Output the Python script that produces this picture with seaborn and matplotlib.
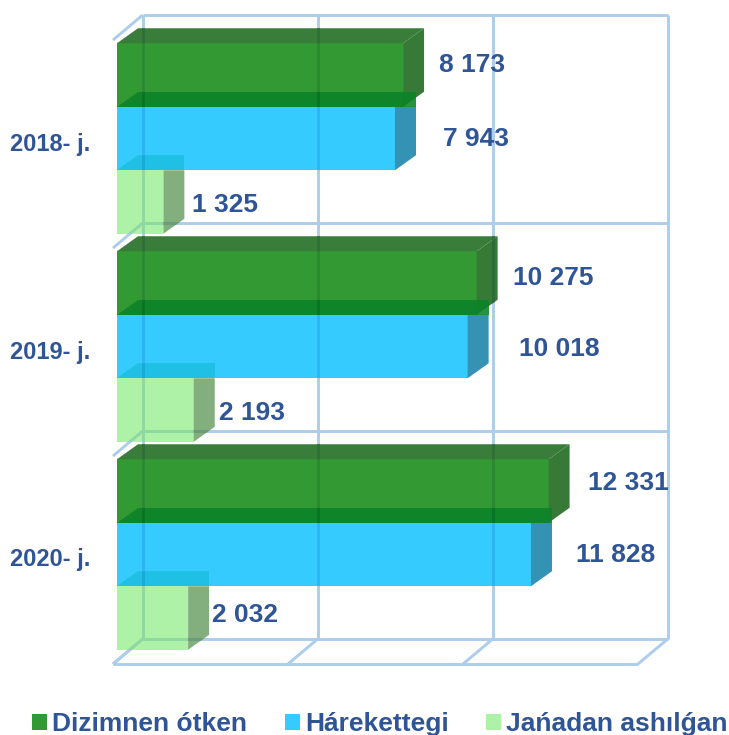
import matplotlib.pyplot as plt
import pandas as pd
import seaborn as sns
from matplotlib.colors import to_rgb
from matplotlib.patches import Patch, Polygon

years = ["2018- j.", "2019- j.", "2020- j."]
series = ["Dizimnen ótken", "Hárekettegi", "Jańadan ashılǵan"]
dizimnen = [8173, 10275, 12331]
harekettegi = [7943, 10018, 11828]
janadan = [1325, 2193, 2032]
ticks = [0, 5000, 10000, 15000]

front_colors = ["#339933", "#36CBFF", "#AEF2A8"]
side_colors = ["#377A37", "#3492B4", "#82AF7D"]
top_colors = ["#3A7D3A", "#0A8228", "#1EBEE1"]
text_color = "#2F5597"
grid_color = "#ACCDEB"

# picture scale: 0.035 px per unit, 208 px per year band
PX_X = 0.035
PX_Y = 208
X0, Y0 = 117, 138.5
W, H = 729, 735
BAR_DX, BAR_DY = 21, 15
WALL_DX, WALL_DY = 30, 25

# label nudges in px, per year and series: (gap after the bar's side, shift from bar centre)
label_nudge = [
    [(15, -10), (27, 1), (8, 3)],
    [(15, -5), (30, 3), (4, 3)],
    [(18, -8), (24, 0), (3, -3)],
]

sns.set_theme(style="white")
plt.rcParams["font.family"] = ["Liberation Sans", "DejaVu Sans"]
plt.rcParams["font.weight"] = "bold"


def vx(px):
    return px / PX_X


def vy(px):
    return px / PX_Y


def wall_lines():
    """Back wall, left wall and floor of the 3D box, in data coordinates."""
    x_front = [t - vx(4) for t in ticks]
    x_back = [x + vx(WALL_DX) - vx(0.3) for x in x_front]
    edges = [i - 0.5 for i in range(len(years) + 1)]
    y_front = [e + vy(5.5) for e in edges]
    y_back = [y - vy(WALL_DY) for y in y_front]
    lines = []
    for xb, xf in zip(x_back, x_front):
        lines.append(([xb, xb], [y_back[0], y_back[-1]]))
        lines.append(([xf, xb], [y_front[-1], y_back[-1]]))
    for yb, yf in zip(y_back, y_front):
        lines.append(([x_back[0], x_back[-1]], [yb, yb]))
        lines.append(([x_front[0], x_back[0]], [yf, yb]))
    lines.append(([x_front[0], x_front[-1]], [y_front[-1], y_front[-1]]))
    return lines


def through(color):
    # the wall shows faintly through a face: darken it a little towards the grid tint
    return tuple(p * (0.45 + 0.55 * q) for p, q in zip(to_rgb(color), to_rgb(grid_color)))


def draw_lines(ax, color, zorder, clip=None):
    for xs, ys in wall_lines():
        line, = ax.plot(xs, ys, color=color, lw=2.1, zorder=zorder, solid_capstyle="butt")
        if clip is not None:
            line.set_clip_path(clip)


def add_face(ax, points, color, zorder, alpha=1.0):
    face = Polygon(points, closed=True, facecolor=color, edgecolor="none", alpha=alpha, zorder=zorder)
    ax.add_patch(face)
    draw_lines(ax, through(color), zorder + 0.5, clip=face)


df = pd.DataFrame({
    "year": years * 3,
    "series": [s for s in series for _ in years],
    "value": dizimnen + harekettegi + janadan,
})

fig = plt.figure(figsize=(W / 100, H / 100), dpi=100)
ax = fig.add_axes([0, 0, 1, 1])
sns.barplot(data=df, y="year", x="value", hue="series", hue_order=series, order=years,
            palette=front_colors, saturation=1, width=3 * 63.5 / PX_Y, linewidth=0,
            legend=False, zorder=3, ax=ax)
ax.set_xlim(vx(-X0), vx(W - X0))
ax.set_ylim(vy(H - Y0), vy(-Y0))
ax.axis("off")

draw_lines(ax, grid_color, 1)

dx, dy = vx(BAR_DX), vy(BAR_DY)
for s, container in enumerate(ax.containers):
    z = 4 + s * 2
    for c, bar in enumerate(container):
        x0, xe = bar.get_x(), bar.get_x() + bar.get_width()
        yt, yb = bar.get_y(), bar.get_y() + bar.get_height()
        draw_lines(ax, through(front_colors[s]), 3.5, clip=bar)
        if s == 0:
            side = [(xe, yt), (xe + dx, yt - dy), (xe + dx, yb - dy), (xe, yb)]
            top = [(x0, yt), (xe, yt), (xe + dx, yt - dy), (x0 + dx, yt - dy)]
        else:
            side = [(xe, yt), (xe + dx, yt), (xe + dx, yb - dy), (xe, yb)]
            top = [(x0, yt), (xe + dx, yt), (xe + dx, yt - dy), (x0 + dx, yt - dy)]
        add_face(ax, side, side_colors[s], z)
        add_face(ax, top, top_colors[s], z + 1, alpha=1.0 if s == 0 else 0.88)

        gap, shift = label_nudge[c][s]
        value = bar.get_width()
        label = f"{value:,.0f}".replace(",", " ")
        ax.text(xe + dx + vx(gap), (yt + yb) / 2 + vy(shift), label, color=text_color,
                fontsize=19, fontweight="bold", ha="left", va="center", zorder=12)

for c, year in enumerate(years):
    ax.text(vx(10.5 - X0), c + vy(5.5), year, color=text_color, fontsize=17,
            fontweight="bold", ha="left", va="center")

handles = [Patch(facecolor=col, edgecolor="none", label=name) for col, name in zip(front_colors, series)]
ax.legend(handles=handles, ncol=3, loc="center left", bbox_to_anchor=(32 / W, 1 - 724 / H),
          frameon=False, labelcolor=text_color, borderpad=0, borderaxespad=0,
          handlelength=0.56, handleheight=0.56, handletextpad=0.2, columnspacing=1.43,
          prop={"family": ["Liberation Sans", "DejaVu Sans"], "weight": "bold", "size": 19})

fig.savefig("out.png", dpi=100, facecolor="white")
